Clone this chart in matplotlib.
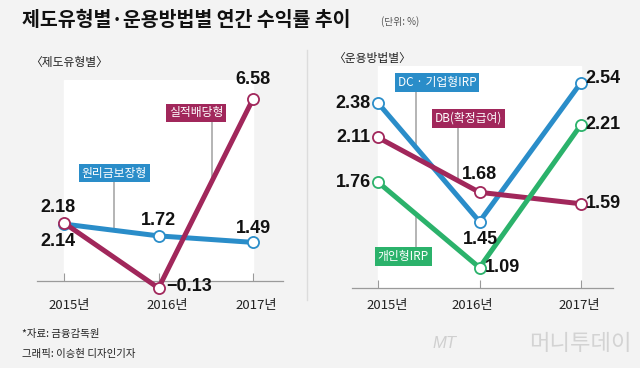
import numpy as np
import matplotlib
matplotlib.use("Agg")
import matplotlib.pyplot as plt
from matplotlib.lines import Line2D

# data
years = ['2015년', '2016년', '2017년']
guaranteed = [2.14, 1.72, 1.49]      # 원리금보장형
performance = [2.18, -0.13, 6.58]    # 실적배당형
dc_irp = [2.38, 1.45, 2.54]          # DC·기업형IRP
db = [2.11, 1.68, 1.59]              # DB(확정급여)
personal_irp = [1.76, 1.09, 2.21]    # 개인형IRP

BLUE = '#2a8dc9'
RED = '#a1275b'
GREEN = '#2bb26b'
BG = '#f3f3f3'
KR = ['Noto Sans CJK KR', 'DejaVu Sans']
NUM = ['Liberation Sans Narrow', 'Liberation Sans', 'DejaVu Sans']

W, H = 640, 368
fig = plt.figure(figsize=(6.4, 3.68), dpi=100, facecolor=BG)


def fx(px):
    return px / W


def fy(py):
    return 1 - py / H


def make_ax(x0, x1, y_axis, y_top, xlim, ylim):
    ax = fig.add_axes([fx(x0), fy(y_axis), fx(x1) - fx(x0), fy(y_top) - fy(y_axis)])
    ax.set_facecolor('none')
    ax.set_xlim(*xlim)
    ax.set_ylim(*ylim)
    for s in ['top', 'right', 'left']:
        ax.spines[s].set_visible(False)
    ax.spines['bottom'].set_color('#9a9a9a')
    ax.spines['bottom'].set_linewidth(0.9)
    ax.set_yticks([])
    ax.set_xticks([0, 1, 2])
    ax.tick_params(axis='x', direction='in', length=6, color='#9a9a9a', labelbottom=False)
    ax.axvspan(0, 2, color='white', zorder=0)
    return ax


def series(ax, vals, color):
    ax.plot(range(3), vals, color=color, lw=3.6, zorder=3, solid_capstyle='round', clip_on=False,
            marker='o', ms=8, mfc='white', mec=color, mew=1.3)


def value_labels(ax, vals, offsets):
    for i, (v, off) in enumerate(zip(vals, offsets)):
        txt = ('−%.2f' % abs(v)) if v < 0 else '%.2f' % v
        ax.annotate(txt, (i, v), xytext=off, textcoords='offset pixels', ha='center', va='center',
                    fontsize=13, fontweight='bold', family=NUM, color='#111111', zorder=6,
                    annotation_clip=False)


def tag(ax, text, bx, by, lx, vals, color):
    ly = np.interp(lx, range(3), vals)
    ax.plot([lx, lx], [by, ly], color='#a8a8a8', lw=1.2, zorder=2)
    ax.text(bx, by, text, ha='center', va='center', fontsize=8.5, family=KR, color='white', zorder=7,
            bbox=dict(boxstyle='square,pad=0.25', fc=color, ec='none'))


# left panel: 제도유형별
axl = make_ax(37, 283, 281, 80, (-0.286, 2.317), (0.12, 7.25))
series(axl, guaranteed, BLUE)
series(axl, performance, RED)
value_labels(axl, guaranteed, [(-6, -17), (0, 15), (0, 14)])
value_labels(axl, performance, [(-6, 15), (31, 2), (0, 19)])
tag(axl, '원리금보장형', 0.53, 3.95, 0.53, guaranteed, BLUE)
tag(axl, '실적배당형', 1.40, 6.08, 1.566, performance, RED)

# right panel: 운용방법별
axr = make_ax(352, 613, 288, 66, (-0.256, 2.315), (0.93, 2.67))
series(axr, dc_irp, BLUE)
series(axr, db, RED)
series(axr, personal_irp, GREEN)
value_labels(axr, dc_irp, [(-25, 0), (1, -18), (22, 4)])
value_labels(axr, db, [(-25, 0), (0, 18), (22, 0)])
value_labels(axr, personal_irp, [(-25, 0), (23, 0), (22, 0)])
tag(axr, 'DC · 기업형IRP', 0.58, 2.54, 0.374, dc_irp, BLUE)
tag(axr, 'DB(확정급여)', 0.89, 2.26, 0.788, db, RED)
tag(axr, '개인형IRP', 0.25, 1.18, 0.374, personal_irp, GREEN)

# year labels (offset from the ticks as in the original)
for px, label in zip([69, 167, 256], years):
    fig.text(fx(px), fy(305), label, ha='center', va='center', fontsize=9.5, family=KR, color='#222222')
for px, label in zip([387, 472, 579], years):
    fig.text(fx(px), fy(305), label, ha='center', va='center', fontsize=9.5, family=KR, color='#222222')

# divider
fig.add_artist(Line2D([fx(307), fx(307)], [fy(50), fy(300)], color='#dcdcdc', lw=1))

# titles
fig.text(fx(22), fy(20), '제도유형별·운용방법별 연간 수익률 추이', ha='left', va='center',
         fontsize=14, fontweight='bold', family=KR, color='#111111')
fig.text(fx(381), fy(22), '(단위: %)', ha='left', va='center', fontsize=7, family=KR, color='#555555')
fig.text(fx(30), fy(62), '〈제도유형별〉', ha='left', va='center', fontsize=8.5, family=KR, color='#222222')
fig.text(fx(333), fy(58), '〈운용방법별〉', ha='left', va='center', fontsize=8.5, family=KR, color='#222222')

# footer
fig.text(fx(22), fy(334), '*자료: 금융감독원', ha='left', va='center', fontsize=7.5, family=KR, color='#222222')
fig.text(fx(22), fy(354), '그래픽: 이승현 디자인기자', ha='left', va='center', fontsize=7.5, family=KR, color='#222222')
fig.text(fx(432), fy(344), 'MT', ha='left', va='center', fontsize=12, style='italic', family=NUM, color='#cfcfcf')
fig.text(fx(632), fy(344), '머니투데이', ha='right', va='center', fontsize=16, family=KR, color='#d3d3d3')

fig.savefig('out.png', dpi=100, facecolor=BG)
